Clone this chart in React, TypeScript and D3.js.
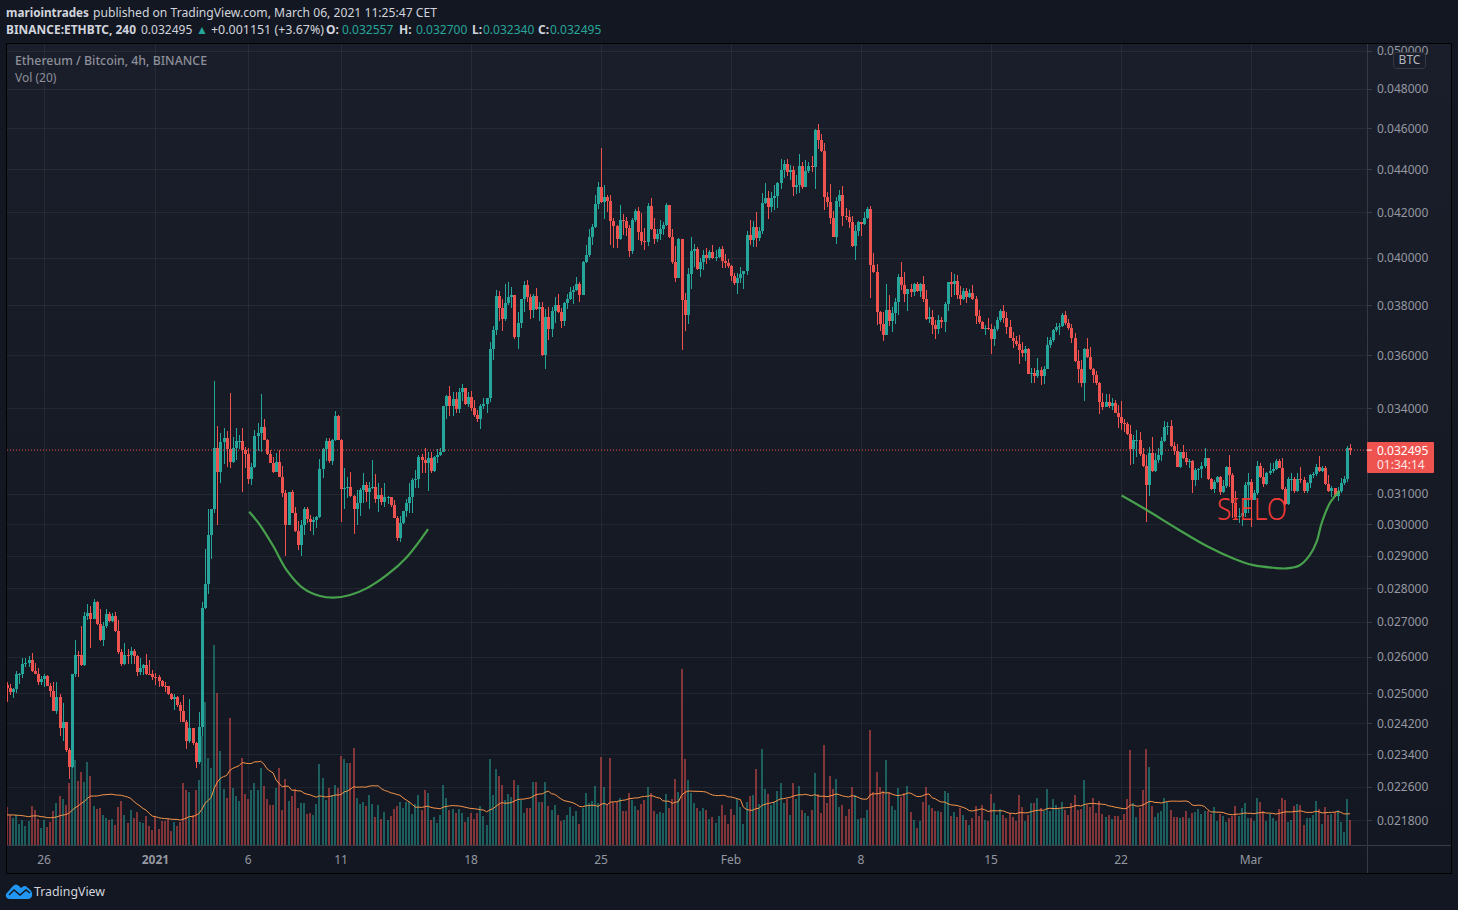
import React from 'react';
import * as d3 from 'd3';

// prices are in millionths of a BTC, same digits as the axis labels
const firstOpen = 25215;
const closes = [
  25125,25018,25100,25514,25530,25810,25815,25920,25595,25523,
  25300,25380,25460,25205,25060,24530,24900,24064,24240,23500,
  23090,25514,26060,26040,25766,27170,27270,27085,27585,26940,
  26460,26865,27230,27010,27155,26720,26130,25785,26060,26040,
  26175,26010,25577,25694,25766,25530,25520,25440,25425,25325,
  25190,25185,24975,24840,24895,24690,24510,24240,23735,24080,
  23700,23210,24110,27400,28120,29650,30490,32570,31730,32780,
  32920,32530,32080,32570,32820,32830,32500,32360,31490,31900,
  32990,33100,33320,32850,32360,32040,31730,32080,31560,31020,
  29970,31050,30360,29780,29330,29970,30490,30160,30060,30130,
  30230,31830,32530,32820,32120,32850,33710,32850,31150,31190,
  31220,30920,30490,30690,31120,31290,31050,31190,31220,30820,
  30950,30720,30890,30900,30620,30200,29550,30030,30430,30690,
  30890,31460,31490,32250,32150,32040,32220,31770,32250,32320,
  32430,34070,34440,34070,34330,33970,34590,34740,34150,34410,
  34000,33750,33610,34070,34150,34370,36240,36990,38370,37880,
  37430,38080,38330,38410,36710,37270,38250,38830,38330,37800,
  38370,37840,37920,36000,37510,37030,37760,38000,37720,37350,
  38080,38250,38540,38620,38870,38410,39800,40110,40890,41340,
  42370,43160,42470,42700,42510,41600,41380,40800,41650,41600,
  41290,40280,41650,42060,41120,40720,40670,42280,41250,40800,
  41020,41250,41430,42330,40890,39800,39120,40800,38210,37600,
  39290,40280,40370,39500,39800,40110,39980,40240,39980,40020,
  40370,39850,39760,39630,39210,38910,39120,39290,39420,40980,
  40760,41340,40850,41160,42420,42650,42240,42650,42740,43350,
  43960,44250,43870,43960,43160,43250,44150,43160,43920,44150,
  44100,45900,45410,44880,42700,42470,41740,40890,42510,42790,
  41830,41780,41560,40500,41160,41560,41470,41740,42150,39670,
  39380,37720,37230,36790,37800,37350,37680,38130,39160,38830,
  38460,38660,38540,38870,38580,38870,38250,37430,37510,37190,
  37030,37390,37310,38040,38950,38870,39000,38410,38250,38580,
  38330,38500,38250,37550,37310,37030,37070,37030,36630,37030,
  37390,37760,37470,37110,36670,36550,36430,36200,36080,36240,
  35270,35310,35190,35420,35190,35460,36400,36590,36990,37110,
  37150,37600,37270,37070,36670,35770,35460,34930,36240,35930,
  35460,35230,34930,34220,34040,34220,34070,34180,33820,33680,
  33460,33430,33070,32530,32850,32860,32360,31940,31290,32390,
  31770,32150,32320,32820,33320,33350,32640,32460,31900,32430,
  32220,32080,32120,31460,31800,31830,31940,32220,31490,31150,
  31390,31560,31050,31260,31900,31630,30690,30230,30260,30360,
  31290,31390,30790,31020,31940,31560,31320,31700,31770,31830,
  32120,31870,31150,30660,31490,31500,31090,31490,31460,31090,
  31360,31630,31660,31900,31770,31870,31320,31090,31190,30920,
  31090,31360,31490,32557,32495,
];
const highs = [
  25305,25240,25125,25595,25550,25964,25964,26020,26115,25830,
  25694,25460,25514,25487,25280,25300,25290,24975,24730,24240,
  23550,25530,26480,26175,26880,27280,27530,27450,27665,27625,
  27380,26980,27380,27300,27250,27280,27040,26220,26400,26220,
  26270,26220,26060,25964,25800,26080,25920,25620,25550,25487,
  25350,25305,25205,25015,24975,24920,24770,24950,24290,24835,
  24080,23710,24490,27585,29200,30490,30490,35000,33350,33100,
  33280,33170,34560,32960,33280,33030,33280,32610,32570,32040,
  33210,33460,34510,33600,32890,32500,32250,32390,32500,31940,
  31120,31050,31120,30560,30100,30130,30560,30560,30290,30230,
  30260,32180,32570,32920,32920,32890,33890,33750,32890,31870,
  31560,31730,30950,31120,31190,31700,31390,31390,32150,31660,
  31360,31190,31360,30930,30890,30790,30260,30260,30430,30820,
  31360,31530,31800,32320,32360,32570,32430,32430,32290,32530,
  32570,34070,34480,34820,34590,34590,34740,34890,34740,34590,
  34630,34290,33930,34150,34370,34370,36510,37150,38620,38580,
  38250,38870,38950,38750,38410,37720,38250,39000,39040,38460,
  38460,38700,38130,38130,37840,37920,37920,38330,38460,37880,
  38130,38460,38750,38790,39160,38950,39850,40540,41250,41470,
  42790,43390,45020,43250,42790,42790,41740,41430,42330,41920,
  41790,41430,41740,42150,42240,41970,41290,42420,42650,41740,
  41250,41650,41560,42420,42330,41250,40500,40850,40800,38500,
  39550,40890,40590,40450,39980,40320,40410,40320,40540,40320,
  40450,40500,40150,39930,39670,39330,39330,39590,39420,41160,
  41650,41600,42010,41340,42880,43350,42970,42930,43250,43390,
  44480,44440,44480,44200,44150,43730,44730,44340,44440,44340,
  44640,45950,46200,45700,45270,42930,43300,42060,42700,43020,
  43200,42190,42100,41830,41430,41600,41560,42010,42240,42280,
  40190,39720,37760,37720,38870,38410,37920,38290,39290,39800,
  39380,38660,38870,38910,38950,38910,39210,38620,37920,37800,
  37390,37600,37510,38130,38950,39380,39290,39250,38790,38700,
  38700,38660,38830,38370,37800,37350,37190,37470,37230,37150,
  37510,37840,38000,37720,37390,36910,36750,36790,36510,36350,
  36280,35500,35500,35890,35540,35580,36710,36710,37030,37270,
  37270,37680,37760,37430,37230,36870,36200,35810,36280,36670,
  36320,35500,35380,34960,34550,34510,34510,34370,34290,34110,
  34260,33600,33500,33390,33030,33210,33140,32570,32320,32610,
  32960,32390,32570,32960,33530,33500,33570,32780,32710,32430,
  32680,32430,32180,32150,31870,31870,32080,32570,32220,31530,
  31460,31600,31600,31460,31940,32320,31700,31090,30520,30520,
  31390,31700,31490,31120,32120,32050,31870,31730,32050,32050,
  32180,32180,32220,31220,31560,31700,31560,31700,31900,31560,
  31390,31660,31730,32010,32290,31940,31940,31630,31260,31190,
  31220,31530,31600,32640,32700,
];
const lows = [
  24760,24950,24880,24990,25235,25415,25712,25710,25577,25514,
  25215,25215,25155,25190,24900,24510,24450,23870,23750,23450,
  22780,23050,25440,25440,25750,25730,27060,26240,27075,26910,
  26440,26290,26815,26980,26980,26700,26090,25730,25760,25785,
  25800,25785,25470,25487,25505,25505,25505,25350,25215,25170,
  25170,25035,24950,24815,24555,24640,24240,24220,23530,23700,
  23640,23070,23160,23870,27370,27820,28890,30360,29970,31360,
  32010,31900,31870,32050,32150,32530,31050,31870,31320,31290,
  31870,32460,32430,32850,32320,32040,31700,31730,31560,30890,
  28980,29970,30360,29740,29170,28980,29650,30030,29780,29650,
  29880,30200,31530,32120,32050,31980,32820,32850,30060,30490,
  30860,30890,29680,29970,30260,30690,30720,30490,31150,30690,
  30390,30620,30560,30660,30560,30200,29460,29430,30000,30230,
  30360,30360,31190,31190,31700,31700,31090,31700,31730,32040,
  32290,32430,33610,33710,33710,33820,33820,34260,34110,34040,
  33890,33680,33500,33240,33970,33820,34220,35810,36790,37350,
  36950,37350,38000,37880,36630,36240,37070,37720,38130,37430,
  37470,37800,37350,35960,35460,36590,36710,37270,37680,37070,
  37150,37840,38210,38040,38580,38130,38410,39760,40020,40540,
  41290,42150,42420,41690,42010,40540,40410,40410,40760,40980,
  40940,40020,40150,41560,40760,40540,40320,40500,41200,40590,
  40670,40760,40980,41380,40850,39720,38950,39120,36200,36950,
  37230,38660,39590,39460,39160,39460,39720,39890,39930,39850,
  39980,39550,39550,39550,39000,38830,38460,38910,38660,39250,
  40540,40450,40450,40720,41030,42370,41690,42010,42100,42190,
  43070,43580,43680,43490,42740,42840,42880,43070,43160,43820,
  43870,43070,44970,44830,42100,42240,41470,40890,40590,42240,
  41380,41650,41290,40450,39890,40940,40940,41430,41690,38290,
  39330,37190,36950,36550,36790,37150,36910,37230,37600,38620,
  38130,37760,38330,38370,38540,38330,38130,37390,37270,36830,
  36630,36830,37070,36910,37760,38330,38410,38250,38000,38210,
  38080,38290,38210,37230,37230,37030,36790,36990,36040,36350,
  36950,37310,37270,36830,36670,36270,36350,35650,35930,35770,
  35270,34930,34930,35110,34850,34890,35460,36280,36510,36910,
  36790,37110,37190,36990,36470,35730,34930,34780,34260,35890,
  35420,34930,34850,33780,33930,34040,34000,33930,33820,33280,
  33210,33140,33030,31980,32010,32250,32290,31900,30060,30920,
  31730,31730,32040,32120,32780,33030,32610,32320,31900,31870,
  32180,31980,31870,31020,31260,31460,31530,31870,31460,31120,
  31020,31360,30950,31020,31190,31220,30200,30200,30030,29940,
  30230,30360,29910,30890,30950,31530,31220,31290,31630,31700,
  31800,31870,31120,30620,30620,31090,31020,31050,31360,31020,
  31020,31190,31530,31600,31730,31730,31290,31050,30890,30890,
  30760,31020,31290,31390,32340,
];
const volumes = [
  114,91,83,91,64,76,58,74,118,106,
  79,51,76,55,70,103,127,148,139,121,
  187,256,256,193,220,190,250,208,118,109,
  112,91,82,76,79,61,115,133,91,67,
  106,82,100,70,67,89,58,46,85,49,
  73,73,79,43,70,58,70,187,166,160,
  91,166,196,328,430,261,231,601,457,283,
  169,141,382,171,148,134,261,154,139,166,
  187,166,231,178,139,121,121,172,232,106,
  199,133,148,169,112,127,127,94,97,91,
  124,244,202,136,172,151,181,171,268,259,
  248,246,291,142,124,129,118,151,124,85,
  121,79,100,76,88,109,118,129,112,130,
  130,94,124,151,106,166,157,76,85,67,
  91,181,142,106,109,97,109,97,70,85,
  97,79,97,118,88,61,259,151,229,208,
  181,136,154,145,196,181,136,97,112,112,
  190,190,130,130,190,118,106,121,91,73,
  76,91,115,88,103,64,112,157,127,133,
  178,127,265,175,121,262,130,130,142,103,
  103,157,136,118,106,124,136,175,157,103,
  94,100,97,154,112,139,199,160,529,259,
  196,157,127,112,103,111,106,79,84,67,
  88,121,91,64,109,91,139,115,64,130,
  148,151,229,124,289,169,154,121,130,163,
  187,127,139,91,187,139,178,106,97,88,
  106,217,154,97,301,127,208,169,199,115,
  121,88,109,175,151,79,82,82,106,346,
  160,220,175,163,256,157,118,106,172,145,
  157,178,100,76,52,73,130,175,121,112,
  103,103,100,163,157,88,100,85,112,91,
  76,61,82,118,88,121,76,73,154,127,
  91,109,91,82,97,85,73,151,115,73,
  91,127,127,142,112,103,169,103,139,121,
  109,130,106,91,127,151,106,109,196,121,
  115,142,97,133,94,85,91,79,88,88,
  76,94,139,286,127,85,112,166,289,235,
  118,85,97,103,142,130,106,85,85,82,
  85,103,82,97,100,109,94,103,103,94,
  115,73,94,88,70,82,88,118,88,112,
  127,82,82,73,142,130,103,73,94,82,
  73,109,142,136,70,76,118,124,121,61,
  82,82,91,133,109,64,115,91,94,100,
  106,70,40,139,76,
];
// bars left of the visible range, guessed from where the MA line starts
const earlierVolumes = [96, 84, 102, 78, 92, 88, 110, 74, 95, 83, 99, 86, 105, 72, 90, 97, 81, 93, 87];

const priceTicks = [50000, 48000, 46000, 44000, 42000, 40000, 38000, 36000, 34000, 31000, 30000, 29000, 28000, 27000, 26000, 25000, 24200, 23400, 22600, 21800];
const timeTicks = [
  { label: '26', date: Date.UTC(2020, 11, 26) },
  { label: '2021', date: Date.UTC(2021, 0, 1), bold: true },
  { label: '6', date: Date.UTC(2021, 0, 6) },
  { label: '11', date: Date.UTC(2021, 0, 11) },
  { label: '18', date: Date.UTC(2021, 0, 18) },
  { label: '25', date: Date.UTC(2021, 0, 25) },
  { label: 'Feb', date: Date.UTC(2021, 1, 1) },
  { label: '8', date: Date.UTC(2021, 1, 8) },
  { label: '15', date: Date.UTC(2021, 1, 15) },
  { label: '22', date: Date.UTC(2021, 1, 22) },
  { label: 'Mar', date: Date.UTC(2021, 2, 1) },
];

// hand drawn curves from the published idea: [bar, price]
const leftCurve = [[78.3, 30400], [81.8, 29970], [86.1, 29290], [90.4, 28550], [95.8, 27990], [101.2, 27760], [105.5, 27710], [110.9, 27790], [116.2, 27990], [122.7, 28390], [129.2, 28950], [136.1, 29840]];
const rightCurve = [[360.2, 30940], [368.3, 30460], [378, 29860], [387.7, 29300], [396.3, 28910], [402.8, 28700], [409.2, 28620], [413.5, 28600], [417.8, 28700], [421, 29010], [423.2, 29430], [424.8, 30020], [427.5, 30690], [430.7, 31100]];

const FONT = '"Noto Sans", sans-serif';
const UP = '#26a69a';
const DOWN = '#ef5350';
const HOUR4 = 4 * 3600 * 1000;
const startTime = Date.UTC(2020, 11, 24);
const MA_LENGTH = 20;

const x = d3.scaleUtc().domain([startTime, startTime + 434 * HOUR4]).range([6.9, 1350]);
const barX = (i: number) => x(startTime + i * HOUR4);
const y = d3.scaleLog().domain([21800, 46000]).range([820, 128]);
const yVol = d3.scaleLinear().domain([0, 650]).range([845.3, 628.6]);

const opens = closes.map((_, i) => (i === 0 ? firstOpen : closes[i - 1]));
const allVolumes = [...earlierVolumes, ...volumes];
const volMA = volumes.map((_, i) => {
  const end = i + earlierVolumes.length + 1;
  return d3.mean(allVolumes.slice(end - MA_LENGTH, end)) as number;
});

const curve = d3
  .line<number[]>()
  .x(d => barX(d[0]))
  .y(d => y(d[1]))
  .curve(d3.curveCatmullRom);
const maLine = d3
  .line<number>()
  .x((_, i) => barX(i))
  .y(d => yVol(d));

// second header row, label then value at fixed spots
const ohlc = [
  { label: 'O:', value: '0.032557', at: 326, val: 342 },
  { label: 'H:', value: '0.032700', at: 399, val: 416 },
  { label: 'L:', value: '0.032340', at: 472, val: 483 },
  { label: 'C:', value: '0.032495', at: 538, val: 550 },
];

function App() {
  const lastY = y(closes[closes.length - 1]);
  return (
    <svg width={1458} height={910} style={{ position: 'absolute', left: 0, top: 0 }} fontFamily={FONT}>
      <defs>
        <linearGradient id="paneBg" x1="0" y1="0" x2="0" y2="1">
          <stop offset="0" stopColor="#1a1e2a" />
          <stop offset="0.4" stopColor="#171b26" />
          <stop offset="1" stopColor="#131722" />
        </linearGradient>
        <clipPath id="pane">
          <rect x={7} y={44} width={1360} height={801} />
        </clipPath>
        <clipPath id="axis">
          <rect x={1367} y={44} width={84} height={801} />
        </clipPath>
      </defs>
      <rect width={1458} height={910} fill="#131722" />
      <rect x={6.5} y={43.5} width={1445} height={830} fill="url(#paneBg)" stroke="#000" />

      {/* grid */}
      <g stroke="#fff" strokeOpacity={0.06} strokeWidth={1} shapeRendering="crispEdges" clipPath="url(#pane)">
        {priceTicks.map(t => (
          <line key={t} x1={7} x2={1367} y1={Math.round(y(t)) + 0.5} y2={Math.round(y(t)) + 0.5} />
        ))}
        {timeTicks.map(t => (
          <line key={t.label} x1={Math.round(x(t.date)) + 0.5} x2={Math.round(x(t.date)) + 0.5} y1={44} y2={845} />
        ))}
      </g>

      {/* volume */}
      <g clipPath="url(#pane)" shapeRendering="crispEdges">
        {volumes.map((v, i) => (
          <rect
            key={i}
            x={Math.round(barX(i)) - 1}
            width={2}
            y={yVol(v)}
            height={yVol(0) - yVol(v)}
            fill={closes[i] >= opens[i] ? UP : DOWN}
            opacity={0.5}
          />
        ))}
      </g>
      <path d={maLine(volMA) as string} fill="none" stroke="#f7964a" strokeWidth={1} clipPath="url(#pane)" />

      {/* candles */}
      <g clipPath="url(#pane)" shapeRendering="crispEdges">
        {closes.map((c, i) => {
          const col = c >= opens[i] ? UP : DOWN;
          const cx = Math.round(barX(i));
          const top = y(Math.max(c, opens[i]));
          const bot = y(Math.min(c, opens[i]));
          return (
            <g key={i} fill={col}>
              <rect x={cx} width={1} y={y(highs[i])} height={Math.max(1, y(lows[i]) - y(highs[i]))} />
              <rect x={cx - 1} width={3} y={top} height={Math.max(1, bot - top)} />
            </g>
          );
        })}
      </g>

      {/* last price */}
      <line x1={7} x2={1367} y1={lastY} y2={lastY} stroke={DOWN} strokeWidth={1} strokeDasharray="1 2" />

      {/* drawings */}
      <path d={curve(leftCurve) as string} fill="none" stroke="#4caf50" strokeWidth={2.2} opacity={0.9} />
      <path d={curve(rightCurve) as string} fill="none" stroke="#4caf50" strokeWidth={2.2} opacity={0.9} />
      <text x={barX(391)} y={y(30130)} fontSize={32} fontWeight={300} fill="#f23a35" textLength={70} lengthAdjust="spacingAndGlyphs">
        SIELO
      </text>

      {/* axes */}
      <g stroke="#363a45" shapeRendering="crispEdges">
        <line x1={1367.5} x2={1367.5} y1={44} y2={873} />
        <line x1={7} x2={1451} y1={845.5} y2={845.5} />
      </g>
      <g clipPath="url(#axis)">
        {priceTicks.map(t => (
          <g key={t}>
            <line x1={1367} x2={1372} y1={Math.round(y(t)) + 0.5} y2={Math.round(y(t)) + 0.5} stroke="#363a45" />
            <text x={1377} y={y(t) + 4.5} fontSize={12} fill="#9598a1">
              {(t / 1e6).toFixed(6)}
            </text>
          </g>
        ))}
      </g>
      {timeTicks.map(t => (
        <text key={t.label} x={x(t.date)} y={864} fontSize={12} fill="#9598a1" textAnchor="middle" fontWeight={t.bold ? 700 : 400}>
          {t.label}
        </text>
      ))}
      <rect x={1393.5} y={52.5} width={32} height={16} rx={3} fill="#1a1e2a" stroke="#363a45" />
      <text x={1409.5} y={64} fontSize={12} fill="#b2b5be" textAnchor="middle">
        BTC
      </text>

      <rect x={1367} y={442} width={67} height={31} rx={1} fill={DOWN} />
      <line x1={1367} x2={1372} y1={lastY} y2={lastY} stroke="#fff" />
      <text x={1377} y={455} fontSize={12} fill="#fff">
        {(closes[closes.length - 1] / 1e6).toFixed(6)}
      </text>
      <text x={1377} y={469} fontSize={12} fill="#fff" opacity={0.85}>
        01:34:14
      </text>

      {/* header */}
      <text x={6} y={17} fontSize={12} fontWeight={700} fill="#d1d4dc" textLength={83} lengthAdjust="spacingAndGlyphs">
        mariointrades
      </text>
      <text x={93} y={17} fontSize={12} fill="#d1d4dc" textLength={344} lengthAdjust="spacingAndGlyphs">
        published on TradingView.com, March 06, 2021 11:25:47 CET
      </text>
      <text x={6} y={34} fontSize={12} fontWeight={700} fill="#d1d4dc" textLength={130} lengthAdjust="spacingAndGlyphs">
        BINANCE:ETHBTC, 240
      </text>
      <text x={141} y={34} fontSize={12} fill="#d1d4dc">
        0.032495
      </text>
      <text x={196} y={34} fontSize={12} fill={UP}>
        ▲
      </text>
      <text x={211} y={34} fontSize={12} fill="#d1d4dc" textLength={113} lengthAdjust="spacingAndGlyphs">
        +0.001151 (+3.67%)
      </text>
      {ohlc.map(d => (
        <g key={d.label} fontSize={12}>
          <text x={d.at} y={34} fontWeight={700} fill="#d1d4dc">
            {d.label}
          </text>
          <text x={d.val} y={34} fill={UP}>
            {d.value}
          </text>
        </g>
      ))}
      <text x={15} y={65} fontSize={12} fontWeight={500} fill="#8c8f99" textLength={192} lengthAdjust="spacingAndGlyphs">
        Ethereum / Bitcoin, 4h, BINANCE
      </text>
      <text x={15} y={82} fontSize={12} fill="#8c8f99">
        Vol (20)
      </text>

      {/* logo */}
      <path
        d="M6 894 L13 886 Q16 883 19 886 L21 888 Q25 884 28 888 Q33 891 32 896 Q31 899 28 899 L9 899 Q5 898 6 894 Z"
        fill="#2196f3"
      />
      <path d="M9 895 L14 890 L20 895 L26 890 L30 893" fill="none" stroke="#131722" strokeWidth={1.4} />
      <text x={34} y={896} fontSize={13} fill="#d1d4dc" textLength={71} lengthAdjust="spacingAndGlyphs">
        TradingView
      </text>
    </svg>
  );
}

export default App;
